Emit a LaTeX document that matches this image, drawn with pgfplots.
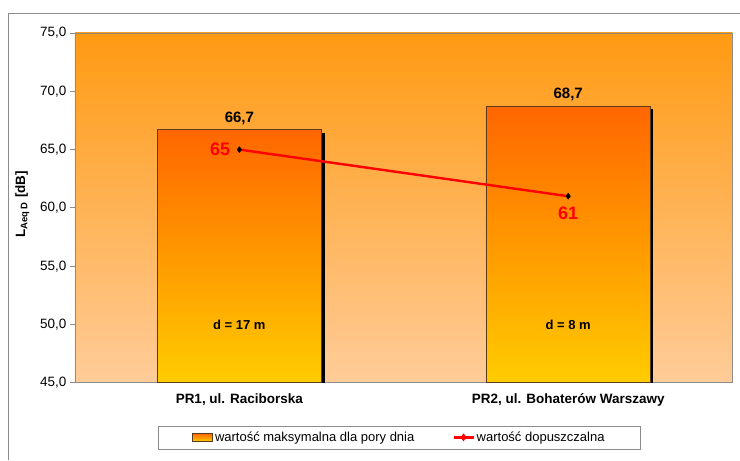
\documentclass[border=0pt]{standalone}
\usepackage{pgfplots}
\pgfplotsset{compat=1.18}
\usepackage{fontspec}
\setmainfont{Liberation Sans}

\definecolor{bgtop}{HTML}{FF9A12}
\definecolor{bgbot}{HTML}{FFCC99}
\definecolor{bartop}{HTML}{FF6600}
\definecolor{barbot}{HTML}{FFCC00}
\definecolor{barline}{HTML}{5A3C1E}
\definecolor{frame}{HTML}{8C8C8C}

\pgfplotsset{
  barlegend/.style={legend image code/.code={\draw[##1] (0pt,-4pt) rectangle (20pt,4pt);}},
  linelegend/.style={legend image code/.code={\draw[mark repeat=2, mark phase=2, ##1] plot coordinates {(0pt,0pt) (10pt,0pt) (20pt,0pt)};}},
  barshadow/.style={fill=black, draw=none, forget plot, transform canvas={xshift=3pt, yshift=-3pt}},
  barbody/.style={draw=barline, line width=0.6pt, top color=bartop, bottom color=barbot, forget plot},
}

\begin{document}
\begin{tikzpicture}
\fill[white] (0pt,0pt) rectangle (740pt,460pt);
\draw[frame, line width=0.8pt] (8pt,0pt) -- (8pt,447pt) -- (740pt,447pt);
\begin{axis}[
  at={(75pt,77pt)}, anchor=south west,
  scale only axis, width=658pt, height=350pt,
  xmin=-0.5, xmax=1.5, ymin=45, ymax=75,
  axis background/.style={top color=bgtop, bottom color=bgbot},
  axis line style={frame, line width=0.8pt},
  every tick/.style={frame, line width=0.8pt},
  tick align=outside,
  ytick={45,50,...,75},
  major tick length=5pt,
  yticklabel style={/pgf/number format/.cd, fixed, fixed zerofill, precision=1, use comma, assume math mode=true},
  every tick label/.append style={font=\fontsize{13.5}{16}\selectfont},
  xtick={0,1},
  xticklabels={{PR1, ul. Raciborska},{PR2, ul. Bohaterów Warszawy}},
  x tick style={draw=none},
  xticklabel style={font=\fontsize{13.5}{16}\selectfont\bfseries, yshift=-2pt},
  extra x ticks={-0.5,0.5,1.5},
  extra x tick labels={},
  extra x tick style={major tick length=5pt, tick style={frame, draw=frame}},
  ytick pos=left,
  every axis y label/.style={at={(axis description cs:-0.08,0.51)}, rotate=90, anchor=center},
  ylabel={\fontsize{13.5}{16}\selectfont\bfseries L\textsubscript{Aeq D} [dB]},
  legend style={at={(axis description cs:0.4935,-0.156)}, anchor=center,
    legend columns=2, draw=frame, fill=white, font=\fontsize{13}{15}\selectfont,
    inner xsep=34pt, inner ysep=4pt, row sep=0pt,
    /tikz/every even column/.append style={column sep=36pt}},
  legend cell align=left,
]
% bars: maximum level for the time of day (shadow first, then the bar)
\addplot[barshadow] coordinates {(-0.25,45) (-0.25,66.7) (0.25,66.7) (0.25,45)} -- cycle;
\addplot[barbody]   coordinates {(-0.25,45) (-0.25,66.7) (0.25,66.7) (0.25,45)} -- cycle;
\addplot[barshadow] coordinates {(0.75,45) (0.75,68.7) (1.25,68.7) (1.25,45)} -- cycle;
\addplot[barbody]   coordinates {(0.75,45) (0.75,68.7) (1.25,68.7) (1.25,45)} -- cycle;
% bar values
\addplot[draw=none, mark=none, forget plot,
  nodes near coords={\pgfmathprintnumber[fixed,fixed zerofill,precision=1,use comma,assume math mode=true]{\pgfplotspointmeta}},
  point meta=y,
  every node near coord/.append style={font=\fontsize{15}{17}\selectfont\bfseries, anchor=south, inner sep=2pt, yshift=3pt}]
  coordinates {(0,66.7) (1,68.7)};
% permissible level
\addplot[red, line width=2.4pt, mark=diamond*, mark size=3pt,
  mark options={fill=black, draw=black, line width=0.4pt}, forget plot,
  nodes near coords={\pgfmathprintnumber[assume math mode=true]{\pgfplotspointmeta}},
  point meta=y,
  visualization depends on={value \thisrow{pos} \as \labpos},
  visualization depends on={\thisrow{dx} \as \labdx},
  visualization depends on={\thisrow{dy} \as \labdy},
  every node near coord/.append style={font=\fontsize{18}{20}\selectfont\bfseries, text=red,
    anchor=\labpos, inner sep=2pt, xshift=\labdx pt, yshift=\labdy pt}]
  table {
x y pos dx dy
0 65 east -7 0
1 61 north 0 -9
};
\node[font=\fontsize{13}{15}\selectfont\bfseries] at (axis cs:0,50) {d = 17 m};
\node[font=\fontsize{13}{15}\selectfont\bfseries] at (axis cs:1,50) {d = 8 m};
% legend
\addlegendimage{barlegend, draw=barline, line width=0.6pt, top color=bartop, bottom color=barbot}
\addlegendentry{wartość maksymalna dla pory dnia}
\addlegendimage{linelegend, red, line width=2.4pt, mark=diamond*, mark size=2pt, mark options={fill=red, draw=red}}
\addlegendentry{wartość dopuszczalna}
\end{axis}
\end{tikzpicture}
\end{document}
